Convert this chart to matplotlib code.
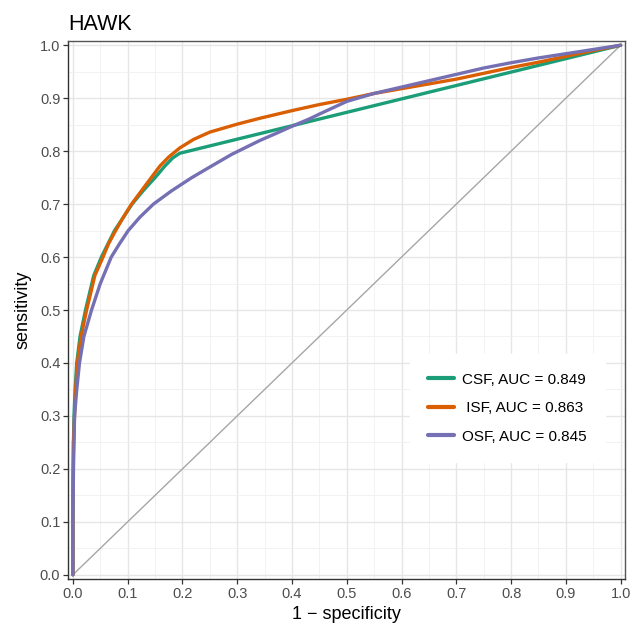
import matplotlib
matplotlib.use("Agg")
import matplotlib.pyplot as plt
from matplotlib.ticker import MultipleLocator

plt.rcParams.update({
    "font.family": ["Liberation Sans", "DejaVu Sans"],
})

# ── ROC curve points ────────────────────────────────────────────────────────
csf_fpr = [0.0, 0.0, 0.001, 0.002, 0.004, 0.007, 0.013, 0.023, 0.038, 0.052, 0.076,
           0.108, 0.128, 0.15, 0.168, 0.182, 0.195, 1.0]
csf_tpr = [0.0, 0.15, 0.25, 0.30, 0.35, 0.40, 0.45, 0.50, 0.565, 0.60, 0.65,
           0.70, 0.725, 0.75, 0.772, 0.787, 0.796, 1.0]

isf_fpr = [0.0, 0.0, 0.001, 0.003, 0.005, 0.008, 0.015, 0.025, 0.032, 0.04, 0.055,
           0.065, 0.078, 0.092, 0.107, 0.125, 0.143, 0.159, 0.175, 0.195, 0.22,
           0.25, 0.3, 0.341, 0.402, 0.45, 0.5, 0.55, 0.6, 0.65, 0.7, 0.75, 0.8,
           0.85, 0.9, 0.95, 1.0]
isf_tpr = [0.0, 0.15, 0.25, 0.30, 0.35, 0.40, 0.45, 0.50, 0.53, 0.565, 0.60,
           0.625, 0.65, 0.675, 0.70, 0.725, 0.75, 0.772, 0.789, 0.806, 0.822,
           0.836, 0.851, 0.862, 0.877, 0.888, 0.898, 0.909, 0.918, 0.927, 0.936,
           0.947, 0.958, 0.968, 0.979, 0.99, 1.0]

osf_fpr = [0.0, 0.0, 0.001, 0.003, 0.007, 0.012, 0.02, 0.034, 0.05, 0.07, 0.085,
           0.101, 0.122, 0.147, 0.18, 0.217, 0.25, 0.29, 0.341, 0.372, 0.4, 0.432,
           0.45, 0.5, 0.55, 0.6, 0.65, 0.7, 0.75, 0.8, 0.85, 0.9, 0.95, 1.0]
osf_tpr = [0.0, 0.10, 0.20, 0.30, 0.35, 0.40, 0.45, 0.50, 0.55, 0.60, 0.625,
           0.65, 0.675, 0.70, 0.725, 0.75, 0.77, 0.794, 0.82, 0.834, 0.847, 0.861,
           0.870, 0.894, 0.909, 0.921, 0.933, 0.945, 0.957, 0.967, 0.976, 0.984, 0.992, 1.0]

labels = ["CSF, AUC = 0.849", " ISF, AUC = 0.863", "OSF, AUC = 0.845"]
COLORS = ["#1b9e77", "#d95f02", "#7570b3"]

fig = plt.figure(figsize=(6.33, 6.28), dpi=100)
ax = fig.add_axes([0.1074, 0.078, 0.88, 0.8567])

# chance diagonal
ax.plot([0, 1], [0, 1], color="#a6a6a6", linewidth=1.0, zorder=2)
for fpr, tpr, lab, col in zip([csf_fpr, isf_fpr, osf_fpr], [csf_tpr, isf_tpr, osf_tpr],
                              labels, COLORS):
    ax.plot(fpr, tpr, color=col, linewidth=2.4, label=lab, zorder=3,
            solid_capstyle="round", solid_joinstyle="round")

ax.set_xlim(-0.009, 1.008)
ax.set_ylim(-0.008, 1.008)
ax.xaxis.set_major_locator(MultipleLocator(0.1))
ax.yaxis.set_major_locator(MultipleLocator(0.1))
ax.xaxis.set_minor_locator(MultipleLocator(0.05))
ax.yaxis.set_minor_locator(MultipleLocator(0.05))
ax.xaxis.set_major_formatter(plt.FuncFormatter(lambda v, p: f"{v:.1f}"))
ax.yaxis.set_major_formatter(plt.FuncFormatter(lambda v, p: f"{v:.1f}"))

ax.grid(which="major", color="#e6e6e6", linewidth=1.0, zorder=0)
ax.grid(which="minor", color="#f0f0f0", linewidth=0.6, zorder=0)
ax.set_axisbelow(True)
ax.tick_params(which="major", direction="out", length=3.5, width=0.9, color="#333333",
               labelsize=10.5, labelcolor="#4d4d4d", pad=2)
ax.tick_params(which="minor", length=0)
for s in ax.spines.values():
    s.set_color("#555555")
    s.set_linewidth(1.0)
ax.spines["left"].set_color("#333333")
ax.spines["bottom"].set_color("#333333")

ax.set_xlabel("1 \u2212 specificity", fontsize=13, labelpad=4)
ax.set_ylabel("sensitivity", fontsize=13, labelpad=6)
ax.set_title("HAWK", fontsize=15.5, loc="left", pad=8)

leg = ax.legend(loc="lower right", bbox_to_anchor=(0.977, 0.203), frameon=True,
                fontsize=11, handlelength=1.7, handletextpad=0.5, labelspacing=0.95,
                borderpad=1.2, fancybox=False)
leg.get_frame().set_facecolor("white")
leg.get_frame().set_edgecolor("white")
leg.get_frame().set_alpha(1.0)
for line in leg.get_lines():
    line.set_linewidth(3.0)

fig.savefig("out.png", dpi=100)
